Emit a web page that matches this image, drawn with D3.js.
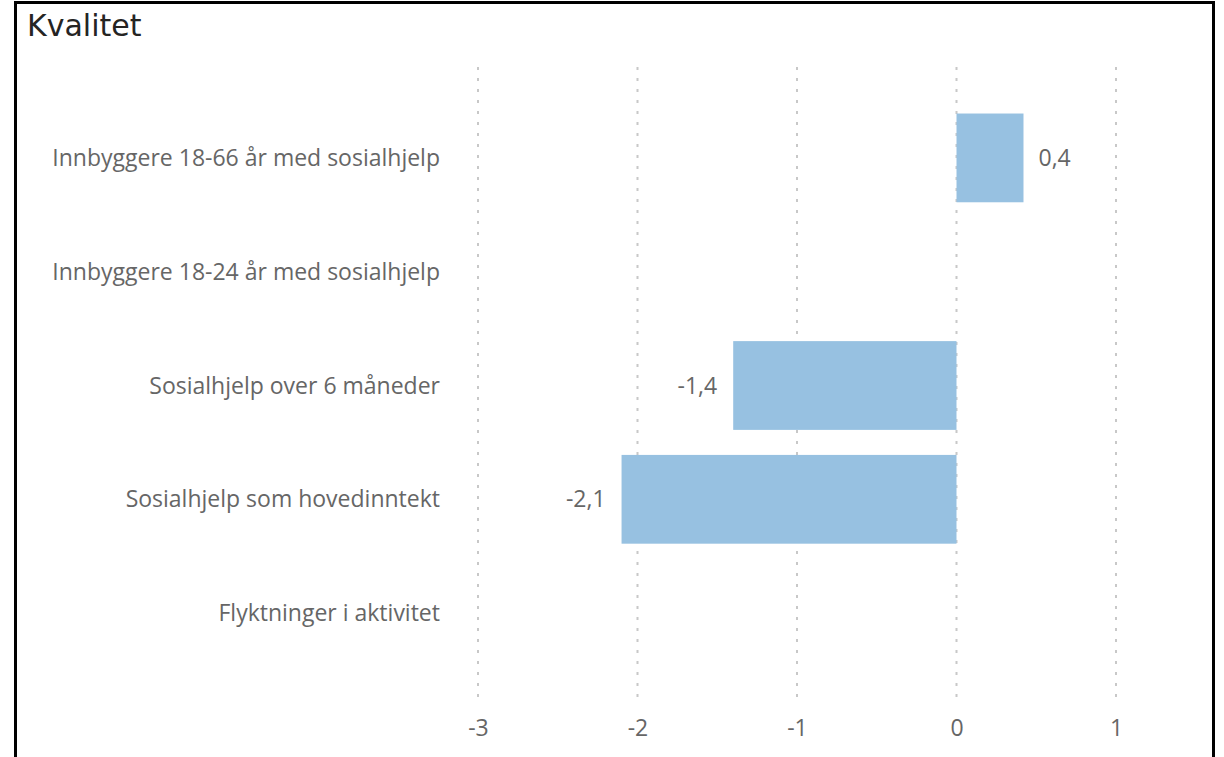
<!doctype html>
<html>
<head>
<meta charset="UTF-8">
<title>Kvalitet</title>
<script src="https://d3js.org/d3.v7.min.js"></script>
<style>
    body { margin: 0; background: #fff; }
    .cat, .val { font-family: "Open Sans", sans-serif; fill: #666; }
    .title { font-family: "DejaVu Sans", sans-serif; fill: #252423; }
</style>
</head>
<body>
<script>
// data
var categories = [
    "Innbyggere 18-66 år med sosialhjelp",
    "Innbyggere 18-24 år med sosialhjelp",
    "Sosialhjelp over 6 måneder",
    "Sosialhjelp som hovedinntekt",
    "Flyktninger i aktivitet"
];
var values = [0.42, null, -1.4, -2.1, null];
var tickValues = [-3, -2, -1, 0, 1];

var width = 1224, height = 757;
var fontSize = 23;

var svg = d3.select("body").append("svg")
    .attr("width", width)
    .attr("height", height);

// frame
svg.append("rect")
    .attr("x", 15.5).attr("y", 2.5)
    .attr("width", 1198).attr("height", 800)
    .attr("fill", "none")
    .attr("stroke", "#000")
    .attr("stroke-width", 3);

svg.append("text")
    .attr("class", "title")
    .attr("x", 27).attr("y", 36)
    .attr("font-size", 30)
    .text("Kvalitet");

var x = d3.scaleLinear().domain([-3, 1]).range([478, 1116]);
var y = d3.scaleBand().domain(categories).range([101, 670])
    .paddingInner(0.22).paddingOuter(0.11);

// hyphen instead of unicode minus, comma decimals
var fmt = function(v) { return d3.format(".1f")(v).replace("−", "-").replace(".", ","); };
var fmtTick = function(v) { return d3.format("d")(v).replace("−", "-"); };

// dotted grid
svg.append("g").selectAll("line")
    .data(tickValues)
    .enter().append("line")
    .attr("x1", function(d) { return x(d); })
    .attr("x2", function(d) { return x(d); })
    .attr("y1", 67).attr("y2", 704)
    .attr("stroke", "#c8c8c8")
    .attr("stroke-width", 2)
    .attr("stroke-dasharray", "3,8");

// x axis labels
var xAxis = d3.axisBottom(x).tickValues(tickValues).tickSize(0).tickPadding(0)
    .tickFormat(fmtTick);
var gx = svg.append("g").attr("transform", "translate(0,715)").call(xAxis);
gx.select(".domain").remove();
gx.selectAll("text")
    .attr("font-size", fontSize)
    .attr("dy", "0.92em")
    .style("font-family", "'Open Sans', sans-serif")
    .attr("fill", "#666");

// category labels
svg.append("g").selectAll("text")
    .data(categories)
    .enter().append("text")
    .attr("class", "cat")
    .attr("x", 440)
    .attr("y", function(d) { return y(d) + y.bandwidth() / 2; })
    .attr("dy", "0.35em")
    .attr("text-anchor", "end")
    .attr("font-size", fontSize)
    .text(function(d) { return d; });

var rows = categories.map(function(c, i) { return { cat: c, v: values[i] }; })
    .filter(function(d) { return d.v !== null; });

svg.append("g").selectAll("rect")
    .data(rows)
    .enter().append("rect")
    .attr("x", function(d) { return x(Math.min(0, d.v)); })
    .attr("y", function(d) { return y(d.cat); })
    .attr("width", function(d) { return Math.abs(x(d.v) - x(0)); })
    .attr("height", y.bandwidth())
    .attr("fill", "#97c1e1");

svg.append("g").selectAll("text")
    .data(rows)
    .enter().append("text")
    .attr("class", "val")
    .attr("x", function(d) { return d.v < 0 ? x(d.v) - 16 : x(d.v) + 15; })
    .attr("y", function(d) { return y(d.cat) + y.bandwidth() / 2; })
    .attr("dy", "0.35em")
    .attr("text-anchor", function(d) { return d.v < 0 ? "end" : "start"; })
    .attr("font-size", fontSize)
    .text(function(d) { return fmt(d.v); });
</script>
</body>
</html>
